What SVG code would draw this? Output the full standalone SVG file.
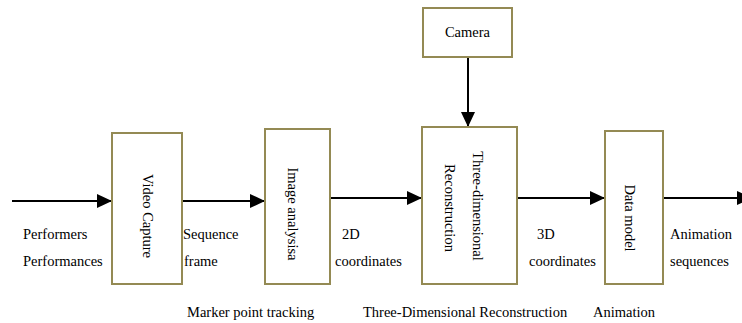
<svg xmlns="http://www.w3.org/2000/svg" width="742" height="323" viewBox="0 0 742 323">
<style>
.box{fill:#fff;stroke:#948A54;stroke-width:2}
.t{font-family:"Liberation Serif","Times New Roman",serif;font-size:14.5px;fill:#000}
.v{font-family:"Liberation Serif","Times New Roman",serif;font-size:14.5px;fill:#000;text-anchor:middle;dominant-baseline:central}
.c{stroke:#000;stroke-width:2;fill:none}
</style>
<defs>
<marker id="ah" markerUnits="userSpaceOnUse" markerWidth="16" markerHeight="14" refX="15" refY="7" orient="auto">
<path d="M0,0 L15,7 L0,14 z" fill="#000"/>
</marker>
</defs>
<rect width="742" height="323" fill="#fff"/>
<g id="connectors">
<line class="c" x1="12" y1="201" x2="112" y2="201" marker-end="url(#ah)"/>
<line class="c" x1="182" y1="201" x2="265" y2="201" marker-end="url(#ah)"/>
<line class="c" x1="330" y1="198" x2="422" y2="198" marker-end="url(#ah)"/>
<line class="c" x1="517" y1="198" x2="605" y2="198" marker-end="url(#ah)"/>
<line class="c" x1="663" y1="198" x2="752" y2="198" marker-end="url(#ah)"/>
<line class="c" x1="468" y1="57" x2="468" y2="127" marker-end="url(#ah)"/>
</g>
<g id="camera">
<rect class="box" x="423" y="8" width="89" height="49"/>
<text class="t" x="467.5" y="37" text-anchor="middle">Camera</text>
</g>
<g id="video-capture">
<rect class="box" x="112" y="133" width="70" height="151"/>
<text class="v" transform="translate(148,216) rotate(90)">Video Capture</text>
</g>
<g id="image-analysis">
<rect class="box" x="265" y="129" width="65" height="155"/>
<text class="v" transform="translate(293,214) rotate(90)">Image analysisa</text>
</g>
<g id="reconstruction">
<rect class="box" x="422" y="127" width="95" height="157"/>
<text class="v" transform="translate(478,206) rotate(90)">Three-dimensional</text>
<text class="v" transform="translate(450,208) rotate(90)">Reconstruction</text>
</g>
<g id="data-model">
<rect class="box" x="605" y="131" width="58" height="153"/>
<text class="v" transform="translate(630,218) rotate(90)">Data model</text>
</g>
<g id="labels">
<text class="t" x="23" y="239">Performers</text>
<text class="t" x="23" y="266">Performances</text>
<text class="t" x="183" y="239">Sequence</text>
<text class="t" x="184" y="266">frame</text>
<text class="t" x="342" y="239">2D</text>
<text class="t" x="335" y="266">coordinates</text>
<text class="t" x="537" y="239">3D</text>
<text class="t" x="529" y="266">coordinates</text>
<text class="t" x="670" y="239">Animation</text>
<text class="t" x="670" y="266">sequences</text>
<text class="t" x="187" y="317">Marker point tracking</text>
<text class="t" x="363" y="317">Three-Dimensional Reconstruction</text>
<text class="t" x="593" y="317">Animation</text>
</g>
</svg>
